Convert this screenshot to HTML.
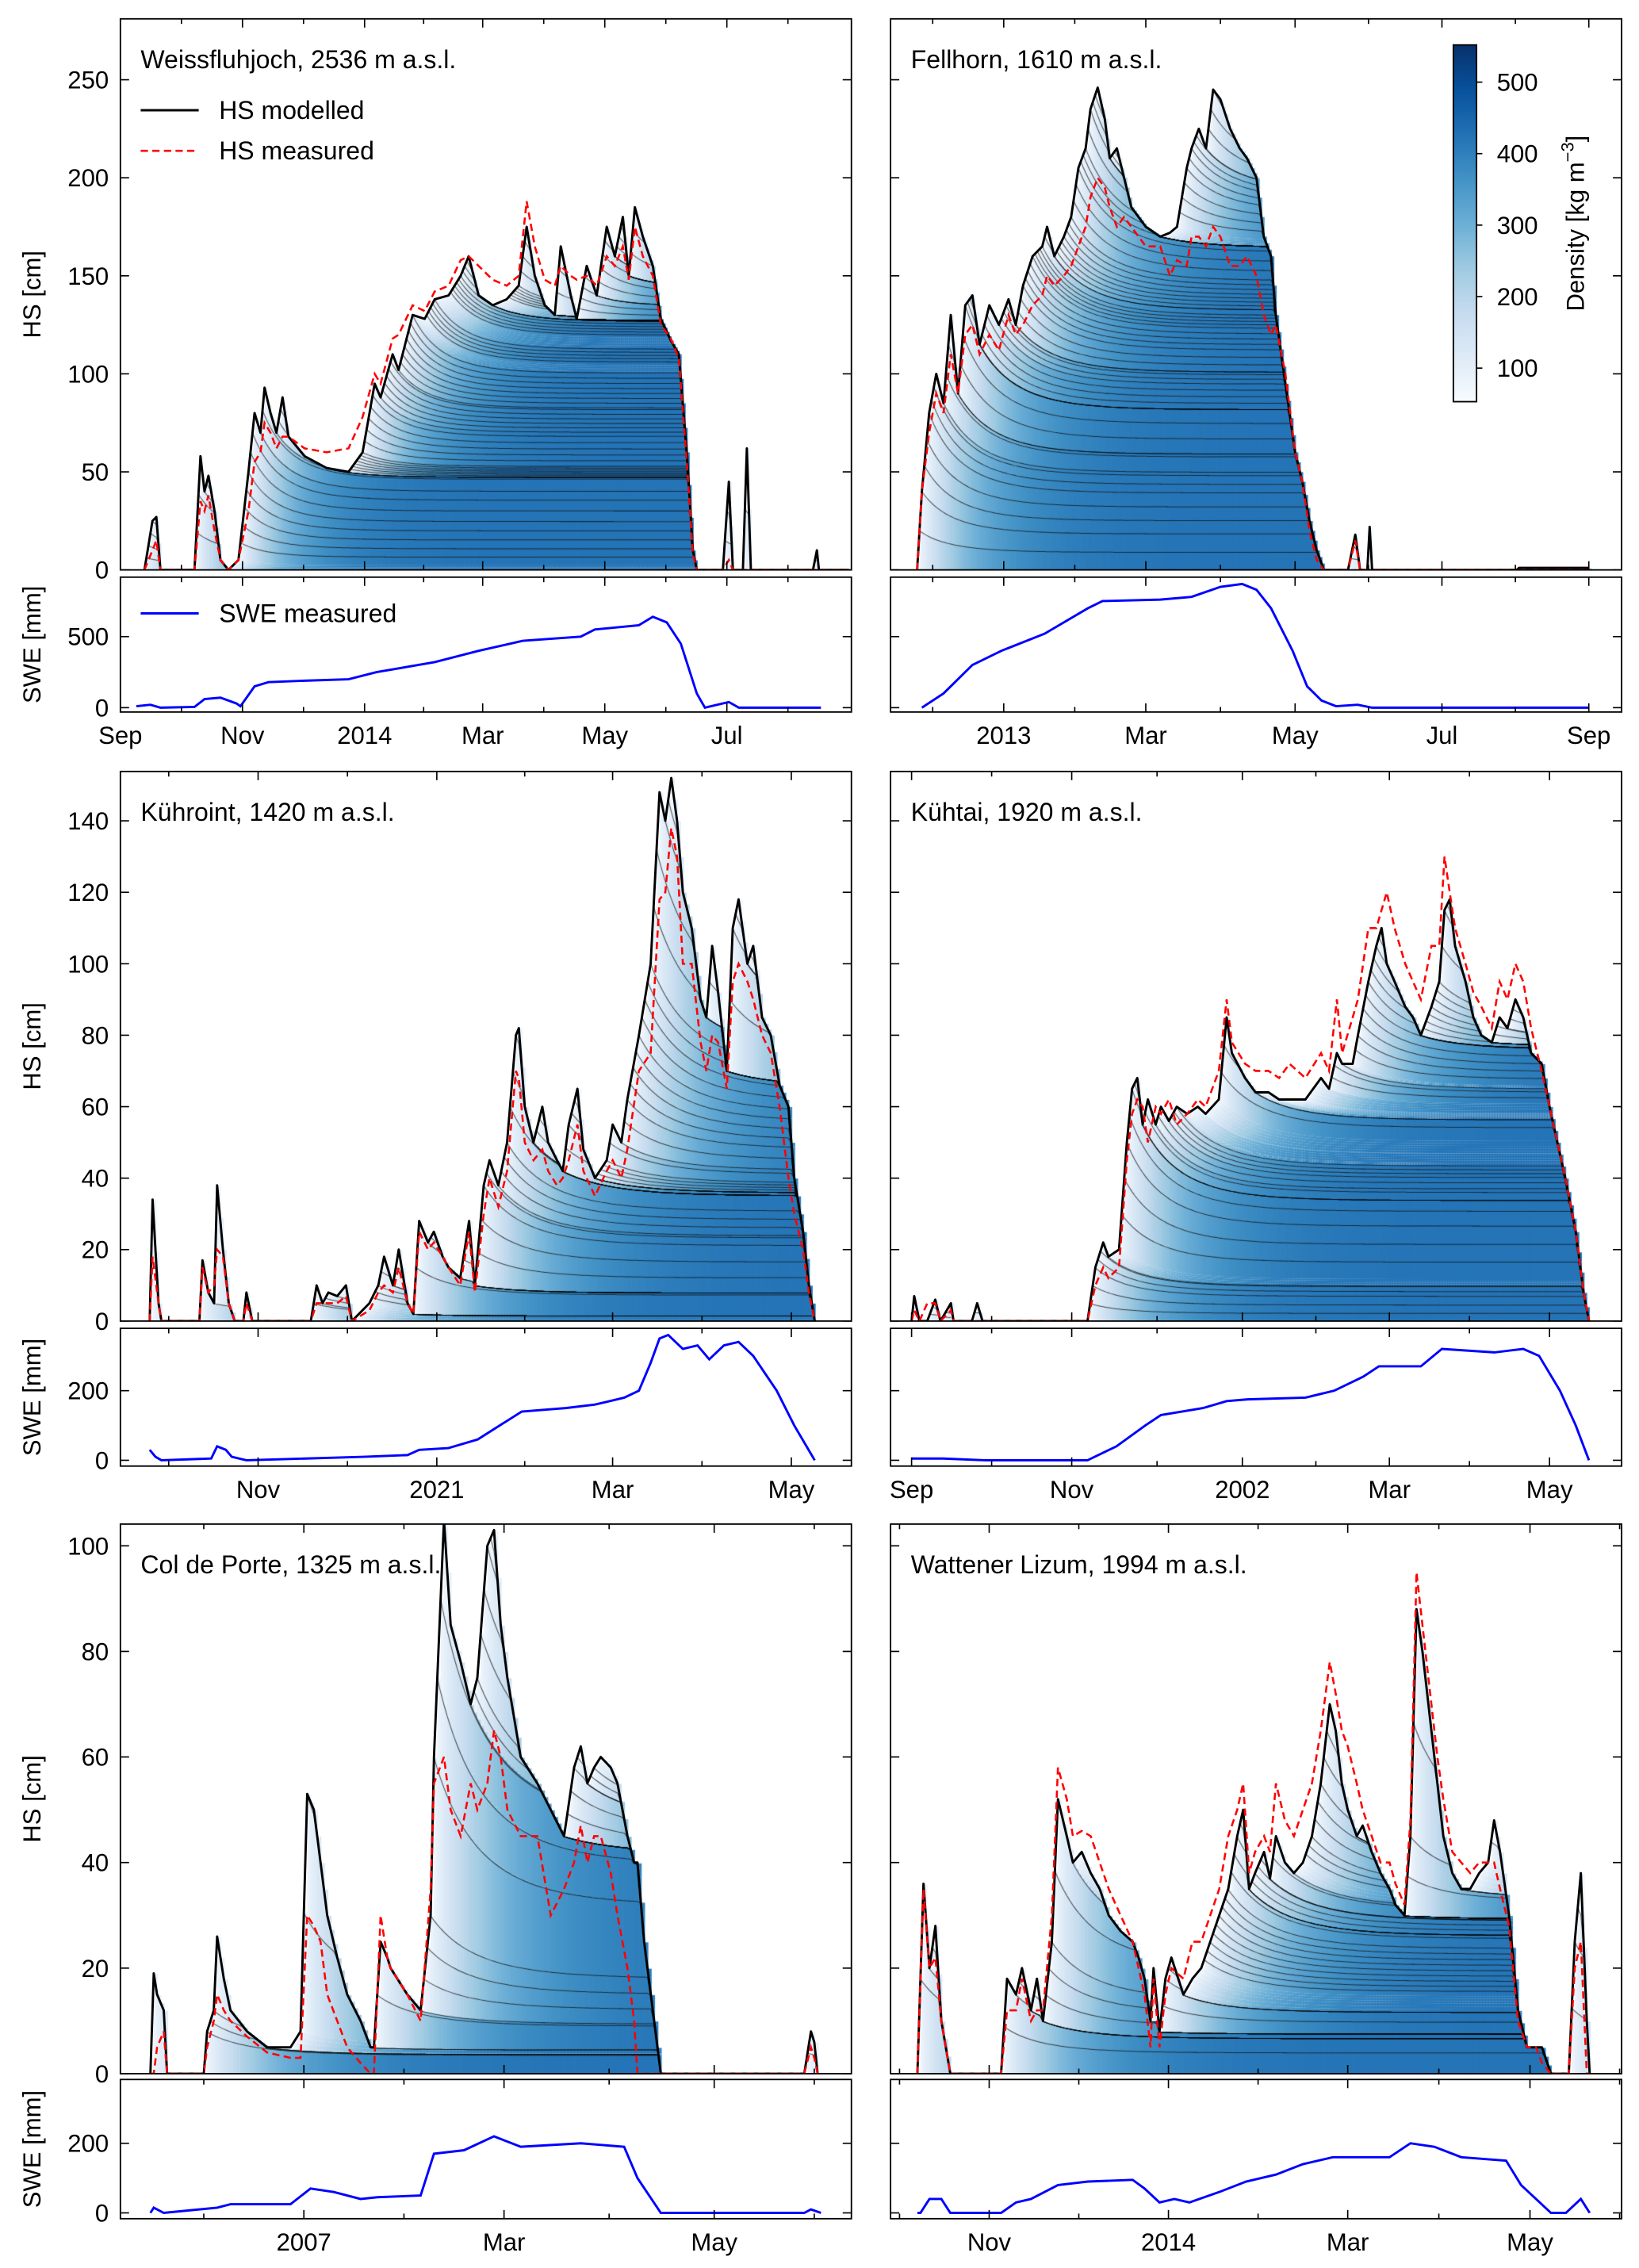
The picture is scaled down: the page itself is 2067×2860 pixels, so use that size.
<!DOCTYPE html>
<html><head><meta charset="utf-8">
<style>
html,body{margin:0;padding:0;background:#fff;}
#wrap{position:relative;width:2067px;height:2860px;overflow:hidden;}
#cv,#sv{position:absolute;left:0;top:0;}
text{font-family:"Liberation Sans","DejaVu Sans",sans-serif;fill:#000;}
</style></head>
<body>
<div id="wrap">
<canvas id="cv" width="2067" height="2860"></canvas>
<svg id="sv" width="2067" height="2860" viewBox="0 0 1130 1564" preserveAspectRatio="none" xmlns="http://www.w3.org/2000/svg">
<defs>
<linearGradient id="cbar" x1="0" y1="1" x2="0" y2="0">
<stop offset="0" stop-color="#f7fbff"/><stop offset="0.125" stop-color="#deebf7"/><stop offset="0.25" stop-color="#c6dbef"/><stop offset="0.375" stop-color="#9ecae1"/><stop offset="0.5" stop-color="#6baed6"/><stop offset="0.625" stop-color="#4292c6"/><stop offset="0.75" stop-color="#2171b5"/><stop offset="0.875" stop-color="#08519c"/><stop offset="1" stop-color="#08306b"/>
</linearGradient>
</defs>
<g id="root"></g>
</svg>
</div>
<script>
// ---------- DATA ----------
// Weissfluhjoch (day 0 = 1 Sep)
const w_days = [12,16,18,20,37,40,42,44,47,50,54,59,64,67,70,72,75,78,81,84,92,103,114,121,127,130,136,139,146,152,157,164,170,174,179,186,193,199,203,207,212,217,220,225,228,233,238,243,247,251,254,257,261,266,270,275,279,283,286,288,301,304,306,311,313,315,346,348,349,364];
const w_hsMod = [0,25,27,0,0,58,40,48,30,5,0,5,50,80,70,93,80,70,88,68,58,52,50,60,95,88,110,102,130,128,138,140,150,160,140,135,138,145,175,150,135,130,165,140,128,155,140,175,160,180,150,185,170,155,128,117,110,60,10,0,0,45,0,0,62,0,0,10,0,0];
const w_hsMeas = [0,10,15,0,0,35,30,38,20,5,0,5,30,55,60,75,70,62,68,68,62,60,62,78,100,95,118,120,135,132,142,145,158,160,155,148,145,150,188,165,148,145,155,150,148,150,145,160,155,165,148,175,160,150,125,118,108,55,8,0,0,5,0,0,0,0,0,0,0,0];
const w_sweDays = [8,15,20,37,42,50,58,60,67,74,92,114,128,157,179,201,230,237,259,266,273,280,288,292,304,309,350];
const w_swe = [10,20,0,5,60,70,30,10,150,180,190,200,250,320,400,470,500,550,580,640,600,450,100,0,40,0,0];
// Fellhorn (day 0 = ~15 Nov)
const f_days = [11,13,16,19,22,25,28,31,34,37,41,45,49,52,55,59,63,65,68,72,75,78,81,83,86,89,91,94,97,100,106,112,116,119,123,125,128,131,134,137,141,145,148,152,155,158,160,164,168,171,174,177,180,190,193,195,198,199,200,260,261,290];
const f_hsMod = [0,40,80,100,85,130,90,135,140,115,135,125,138,125,145,160,165,175,160,170,180,205,215,235,246,230,210,215,200,185,175,170,172,175,205,215,225,215,245,240,225,215,210,200,170,160,130,95,60,45,25,10,0,0,18,0,0,22,0,0,1,1];
const f_hsMeas = [0,40,70,90,80,110,90,120,125,110,120,112,130,120,125,135,140,150,145,150,155,165,175,190,200,195,185,175,180,175,165,165,150,158,155,170,170,165,175,170,155,155,160,150,130,120,125,100,60,45,20,5,0,0,15,0,0,0,0,0,0,0];
const f_sweDays = [13,22,34,46,64,82,88,112,125,137,146,152,158,167,173,179,185,194,200,290];
const f_swe = [0,100,300,400,520,700,750,760,780,850,870,830,700,400,150,50,10,20,0,0];
// Kühroint (day 0 = ~15 Sep)
const k_days = [10,11,13,14,27,28,30,32,33,35,37,39,42,43,45,65,67,69,71,74,77,79,85,88,90,93,95,98,100,102,105,107,110,112,116,119,121,124,126,129,132,135,136,138,141,144,146,149,151,153,156,158,162,166,168,171,173,177,181,184,186,188,190,192,195,198,200,202,204,207,209,211,214,216,219,222,225,228,230,233,235,237];
const k_hsMod = [0,34,5,0,0,17,8,5,38,20,5,0,0,8,0,0,10,5,8,7,10,0,5,10,18,10,20,5,2,28,22,25,18,15,12,28,10,38,45,38,50,80,82,60,50,60,50,45,42,55,65,48,40,45,55,50,62,80,100,148,140,152,140,120,110,90,85,105,92,70,110,118,100,105,85,80,66,60,40,25,10,0];
const k_hsMeas = [0,18,5,0,0,15,8,10,20,18,5,0,0,5,0,0,5,5,5,5,7,0,3,8,10,8,15,5,2,25,20,22,18,15,10,25,8,30,40,32,42,70,68,50,45,48,42,38,40,45,55,42,35,42,45,40,48,70,75,118,120,138,130,100,100,78,70,80,78,65,95,100,95,90,80,75,60,40,30,20,8,0];
const k_sweDays = [10,12,14,31,33,36,38,43,83,98,102,112,122,137,152,162,172,177,181,184,187,192,197,201,206,211,216,224,230,237];
const k_swe = [30,10,0,5,40,30,10,0,10,15,30,35,60,140,150,160,180,200,280,350,360,320,330,290,330,340,300,200,100,0];
// Kühtai (day 0 = ~24 Aug)
const t_days = [8,9,11,14,17,19,23,24,31,33,35,75,78,81,83,87,90,92,94,96,98,101,103,106,109,113,117,120,125,128,130,135,139,144,148,152,158,164,167,170,172,176,178,182,185,187,189,192,196,199,202,206,209,211,213,215,219,222,225,229,232,235,238,241,244,248,251,254,257,261,264,266];
const t_hsMod = [0,7,0,0,6,0,5,0,0,5,0,0,15,22,18,20,50,65,68,55,62,55,60,56,60,58,60,58,62,85,75,68,64,64,62,62,62,68,65,75,72,72,80,95,105,110,100,95,88,85,80,88,95,115,118,105,95,85,80,78,85,82,90,85,75,72,60,50,40,25,8,0];
const t_hsMeas = [0,3,0,5,5,0,3,0,0,0,0,0,10,15,12,15,45,58,62,60,50,60,58,62,55,58,62,60,70,90,78,72,70,70,68,72,68,75,70,90,75,85,90,110,110,115,120,110,100,95,90,105,105,130,120,110,100,92,88,82,95,90,100,95,82,70,60,50,40,25,8,0];
const t_sweDays = [8,20,36,75,86,97,103,119,128,136,158,169,180,186,202,210,230,241,247,255,261,266];
const t_swe = [5,5,0,0,40,100,130,150,170,175,180,200,240,270,270,320,310,320,300,200,100,0];
// Col de Porte (day 0 = ~7 Nov)
const c_days = [9,10,11,13,14,25,26,28,29,31,33,38,44,51,54,56,58,60,62,65,68,72,75,76,78,80,81,86,90,93,94,97,99,102,105,107,110,112,114,116,120,125,129,133,136,138,140,142,144,147,149,152,154,155,157,160,162,205,207,208,209];
const c_hsMod = [0,19,15,12,0,0,8,12,26,18,12,8,5,5,8,53,50,40,30,22,15,10,5,5,25,22,20,15,12,30,60,105,85,78,70,75,100,103,85,75,60,55,50,45,58,62,55,58,60,58,55,45,40,40,25,10,0,0,8,6,0];
const c_hsMeas = [0,0,5,8,0,0,5,10,15,12,10,7,4,3,3,30,28,25,15,10,5,2,0,0,30,22,20,15,10,35,55,60,50,45,55,50,55,65,60,50,45,45,30,35,40,47,40,45,45,38,30,20,10,0,0,0,0,0,5,3,0];
const c_sweDays = [9,10,13,29,33,51,57,64,72,77,90,94,103,112,120,138,151,155,162,205,207,210];
const c_swe = [0,15,0,15,25,25,70,60,40,45,50,170,180,220,190,200,190,100,0,0,10,0];
// Wattener Lizum (day 0 = ~29 Sep)
const l_days = [9,11,13,15,17,20,37,39,42,44,47,49,51,54,56,59,61,64,67,70,73,77,81,83,85,87,88,90,92,94,98,101,104,107,110,113,116,118,120,122,125,127,129,132,135,138,141,144,147,149,151,153,156,158,161,164,167,169,172,174,176,178,180,183,185,188,191,194,197,200,202,204,207,210,213,216,218,221,227,229,231,233,234];
const l_hsMod = [0,36,20,28,10,0,0,18,15,20,12,18,10,25,52,45,40,42,38,35,30,27,25,22,18,10,20,8,18,22,15,18,20,25,30,35,45,50,35,38,42,37,45,40,38,40,45,55,70,65,55,50,45,47,42,38,35,32,30,45,88,80,70,55,45,38,35,35,38,40,48,42,30,12,5,5,5,0,0,25,38,10,0];
const l_hsMeas = [0,35,20,22,10,0,0,12,12,18,10,12,12,30,58,52,45,46,45,40,35,30,25,20,15,5,18,5,15,20,18,25,25,30,35,45,50,55,38,42,45,42,55,48,45,50,55,65,78,72,65,62,55,50,45,40,40,36,32,48,95,85,75,60,52,42,40,38,40,40,40,35,28,10,5,5,2,0,0,20,25,0,0];
const l_sweDays = [9,10,13,17,20,37,42,47,56,66,81,85,90,95,100,110,119,129,138,148,167,174,182,191,206,211,216,221,226,231,234];
const l_swe = [0,0,40,40,0,0,30,40,80,90,95,70,30,40,30,60,90,110,140,160,160,200,190,160,150,80,40,0,0,40,0];

// tick labels
const w_tickDays=[0,61,122,181,242,303], w_tickLabels=["Sep","Nov","2014","Mar","May","Jul"];
const f_tickDays=[47,106,168,229,290], f_tickLabels=["2013","Mar","May","Jul","Sep"];
const k_tickDays=[47,108,168,229], k_tickLabels=["Nov","2021","Mar","May"];
const t_tickDays=[8,69,134,190,251], t_tickLabels=["Sep","Nov","2002","Mar","May"];
const c_tickDays=[55,115,178], c_tickLabels=["2007","Mar","May"];
const l_tickDays=[33,93,153,214], l_tickLabels=["Nov","2014","Mar","May"];
const hsTicksA=[0,50,100,150,200,250], hsTicksB=[0,20,40,60,80,100,120,140], hsTicksC=[0,20,40,60,80,100];
const sweTicksA=[0,500], sweTicksB=[0,200];
const cbTicks=[100,200,300,400,500];

// ---------- LAYOUT ----------
const panels=[
 {id:'weissfluhjoch',title:'Weissfluhjoch, 2536 m a.s.l.',x0:83,x1:587,ppd:1.38,hsTop:13,hsBot:393,hsPx:1.352,sTop:398,sBot:491,sZero:488,sPx:0.098,days:w_days,mod:w_hsMod,meas:w_hsMeas,sd:w_sweDays,sv:w_swe,td:w_tickDays,tl:w_tickLabels,hsT:hsTicksA,sT:sweTicksA,left:true,legend:true},
 {id:'fellhorn',title:'Fellhorn, 1610 m a.s.l.',x0:614,x1:1118,ppd:1.66,hsTop:13,hsBot:393,hsPx:1.352,sTop:398,sBot:491,sZero:488,sPx:0.098,days:f_days,mod:f_hsMod,meas:f_hsMeas,sd:f_sweDays,sv:f_swe,td:f_tickDays,tl:f_tickLabels,hsT:hsTicksA,sT:sweTicksA,left:false},
 {id:'kuehroint',title:'Kühroint, 1420 m a.s.l.',x0:83,x1:587,ppd:2.02,hsTop:532,hsBot:911,hsPx:2.464,sTop:916,sBot:1011,sZero:1007,sPx:0.24,days:k_days,mod:k_hsMod,meas:k_hsMeas,sd:k_sweDays,sv:k_swe,td:k_tickDays,tl:k_tickLabels,hsT:hsTicksB,sT:sweTicksB,left:true},
 {id:'kuehtai',title:'Kühtai, 1920 m a.s.l.',x0:614,x1:1118,ppd:1.81,hsTop:532,hsBot:911,hsPx:2.464,sTop:916,sBot:1011,sZero:1007,sPx:0.24,days:t_days,mod:t_hsMod,meas:t_hsMeas,sd:t_sweDays,sv:t_swe,td:t_tickDays,tl:t_tickLabels,hsT:hsTicksB,sT:sweTicksB,left:false},
 {id:'col-de-porte',title:'Col de Porte, 1325 m a.s.l.',x0:83,x1:587,ppd:2.30,hsTop:1051,hsBot:1430,hsPx:3.64,sTop:1434,sBot:1530,sZero:1526,sPx:0.24,days:c_days,mod:c_hsMod,meas:c_hsMeas,sd:c_sweDays,sv:c_swe,td:c_tickDays,tl:c_tickLabels,hsT:hsTicksC,sT:sweTicksB,left:true},
 {id:'wattener-lizum',title:'Wattener Lizum, 1994 m a.s.l.',x0:614,x1:1118,ppd:2.06,hsTop:1051,hsBot:1430,hsPx:3.64,sTop:1434,sBot:1530,sZero:1526,sPx:0.24,days:l_days,mod:l_hsMod,meas:l_hsMeas,sd:l_sweDays,sv:l_swe,td:l_tickDays,tl:l_tickLabels,hsT:hsTicksC,sT:sweTicksB,left:false}
];

const NS='http://www.w3.org/2000/svg';
const root=document.getElementById('root');
function el(tag,attrs,parent){const e=document.createElementNS(NS,tag);for(const k in attrs)e.setAttribute(k,attrs[k]);(parent||root).appendChild(e);return e;}
function interp(xs,ys,x){if(x<=xs[0])return ys[0];for(let i=1;i<xs.length;i++){if(x<=xs[i]){const t=(x-xs[i-1])/(xs[i]-xs[i-1]);return ys[i-1]+t*(ys[i]-ys[i-1]);}}return ys[ys.length-1];}

const stops=[[0,[247,251,255]],[.125,[222,235,247]],[.25,[198,219,239]],[.375,[158,202,225]],[.5,[107,174,214]],[.625,[66,146,198]],[.75,[33,113,181]],[.875,[8,81,156]],[1,[8,48,107]]];
function blues(t){t=Math.max(0,Math.min(1,t));for(let i=1;i<stops.length;i++){if(t<=stops[i][0]){const a=stops[i-1],b=stops[i];const u=(t-a[0])/(b[0]-a[0]);return 'rgb('+a[1].map((v,k)=>Math.round(v+u*(b[1][k]-v))).join(',')+')';}}return 'rgb(8,48,107)';}

const cv=document.getElementById('cv');const ctx=cv.getContext('2d');
const S=2067/1130;ctx.setTransform(S,0,0,S,0,0);

panels.forEach(p=>{
 const X=d=>p.x0+d*p.ppd;
 const YH=v=>p.hsBot-v*p.hsPx;
 const YS=v=>p.sZero-v*p.sPx;
 const g=el('g',{});
 
 
 // ---- density fill on canvas ----
 const dEnd=p.days[p.days.length-1];
 const hs=[];for(let d=0;d<=dEnd;d++)hs.push(d<p.days[0]?0:Math.max(0,interp(p.days,p.mod,d)));
 let layers=[];
 const lineSets=[];
 ctx.save();ctx.beginPath();ctx.rect(p.x0,p.hsTop,p.x1-p.x0,p.hsBot-p.hsTop);ctx.clip();
 for(let d=0;d<=dEnd;d++){
  const h=hs[d];
  if(h<=0.2){layers=[];continue;}
  let prevOld=0,prevNew=0;
  for(const L of layers){
   const age=d-L.start;
   const r=1-0.045*Math.exp(-age/18);
   const nt=prevNew+(L.T-prevOld)*r;
   prevOld=L.T;L.T=Math.min(h,Math.max(nt,prevNew));prevNew=L.T;
  }
  const topPrev=layers.length?layers[layers.length-1].T:0;
  if(h>topPrev+0.01){layers.push({start:d,T:h,line:(d>0&&hs[d]>hs[d-1]+1.0)});}
  else if(layers.length){layers[layers.length-1].T=h;}
  let base=0;
  const x=X(d),w=p.ppd+0.6;
  for(const L of layers){
   if(L.T>base){const age=d-L.start;const dens=420-340*Math.exp(-age/22);
    ctx.fillStyle=blues((dens-50)/500);ctx.fillRect(x,YH(L.T),w,YH(base)-YH(L.T));base=L.T;}
  }
  for(const L of layers){if(L.line){(L.pts||(L.pts=[])).push([X(d),YH(L.T)]);if(!L.reg){L.reg=1;lineSets.push(L);}}}
 }
 ctx.lineWidth=0.55;ctx.strokeStyle='rgba(0,0,0,0.7)';
 lineSets.forEach(L=>{if(L.pts.length<2)return;ctx.beginPath();L.pts.forEach((q,i)=>i?ctx.lineTo(q[0],q[1]):ctx.moveTo(q[0],q[1]));ctx.stroke();});
 ctx.restore();

 const cid='clip-'+p.id;
 const cp=el('clipPath',{id:cid},g);el('rect',{x:p.x0,y:p.hsTop,width:p.x1-p.x0,height:p.hsBot-p.hsTop},cp);
 const ptsMeas=p.days.map((d,i)=>X(d).toFixed(1)+','+YH(p.meas[i]).toFixed(1)).join(' ');
 const ptsMod=p.days.map((d,i)=>X(d).toFixed(1)+','+YH(p.mod[i]).toFixed(1)).join(' ');
 const lm=el('polyline',{points:ptsMod,fill:'none',stroke:'#000','stroke-width':1.6,'stroke-linejoin':'round','clip-path':'url(#'+cid+')'},g);
 
 
 const lr=el('polyline',{points:ptsMeas,fill:'none',stroke:'#ff0000','stroke-width':1.4,'stroke-dasharray':'5,3','clip-path':'url(#'+cid+')'},g);
 
 
 const ptsS=p.sd.map((d,i)=>X(d).toFixed(1)+','+YS(p.sv[i]).toFixed(1)).join(' ');
 const ls=el('polyline',{points:ptsS,fill:'none',stroke:'#0000ff','stroke-width':1.6},g);
 
 

 const f1=el('rect',{x:p.x0,y:p.hsTop,width:p.x1-p.x0,height:p.hsBot-p.hsTop,fill:'none',stroke:'#000','stroke-width':1},g);
 
 
 const f2=el('rect',{x:p.x0,y:p.sTop,width:p.x1-p.x0,height:p.sBot-p.sTop,fill:'none',stroke:'#000','stroke-width':1},g);
 
 
 const minor=[];for(let i=0;i<p.td.length-1;i++)minor.push((p.td[i]+p.td[i+1])/2);
 minor.push(p.td[0]-(p.td[1]-p.td[0])/2);minor.push(p.td[p.td.length-1]+(p.td[1]-p.td[0])/2);
 const drawX=(d,len)=>{const x=X(d);if(x<p.x0+1||x>p.x1-1)return;
  [[p.hsBot,-len],[p.hsTop,len],[p.sBot,-len],[p.sTop,len]].forEach(([y,l])=>el('line',{x1:x,x2:x,y1:y,y2:y+l,stroke:'#000','stroke-width':0.9},g));};
 p.td.forEach(d=>drawX(d,6));minor.forEach(d=>drawX(d,3.5));
 p.td.forEach((d,i)=>{const t=el('text',{x:X(d),y:p.sBot+22,'font-size':17,'text-anchor':'middle'},g);t.textContent=p.tl[i];
  
  });
 p.hsT.forEach(v=>{const y=YH(v);[[p.x0,6],[p.x1,-6]].forEach(([x,l])=>el('line',{x1:x,x2:x+l,y1:y,y2:y,stroke:'#000','stroke-width':0.9},g));
  if(p.left){const t=el('text',{x:p.x0-8,y:y+6,'font-size':17,'text-anchor':'end'},g);t.textContent=v;
   
   }});
 p.sT.forEach(v=>{const y=YS(v);[[p.x0,6],[p.x1,-6]].forEach(([x,l])=>el('line',{x1:x,x2:x+l,y1:y,y2:y,stroke:'#000','stroke-width':0.9},g));
  if(p.left){const t=el('text',{x:p.x0-8,y:y+6,'font-size':17,'text-anchor':'end'},g);t.textContent=v;
   
   }});
 if(p.left){
  const cy=(p.hsTop+p.hsBot)/2;const t=el('text',{x:28,y:cy,'font-size':17,'text-anchor':'middle',transform:'rotate(-90 28 '+cy+')'},g);t.textContent='HS [cm]';
  
  
  const cy2=(p.sTop+p.sBot)/2;const t2=el('text',{x:28,y:cy2,'font-size':17,'text-anchor':'middle',transform:'rotate(-90 28 '+cy2+')'},g);t2.textContent='SWE [mm]';
  
  
 }
 const tt=el('text',{x:p.x0+14,y:p.hsTop+34,'font-size':17.5},g);tt.textContent=p.title;
 
 
 if(p.legend){
  const l1=el('line',{x1:97,x2:137,y1:76,y2:76,stroke:'#000','stroke-width':1.6},g);
  
  
  const a=el('text',{x:151,y:82,'font-size':17.5},g);a.textContent='HS modelled';
  
  
  const l2=el('line',{x1:97,x2:137,y1:104,y2:104,stroke:'#f00','stroke-width':1.4,'stroke-dasharray':'5,3'},g);
  
  
  const b=el('text',{x:151,y:110,'font-size':17.5},g);b.textContent='HS measured';
  
  
  const l3=el('line',{x1:97,x2:137,y1:423,y2:423,stroke:'#00f','stroke-width':1.6},g);
  
  
  const c=el('text',{x:151,y:429,'font-size':17.5},g);c.textContent='SWE measured';
  
  
 }
});

const cbx=1002,cbw=16,cbTop=31,cbBot=277,cbMin=53,cbMax=552;
const CY=v=>cbBot-(v-cbMin)/(cbMax-cbMin)*(cbBot-cbTop);
const cb=el('rect',{x:cbx,y:cbTop,width:cbw,height:cbBot-cbTop,fill:'url(#cbar)',stroke:'#000','stroke-width':1});


cbTicks.forEach(v=>{const y=CY(v);el('line',{x1:cbx+cbw,x2:cbx+cbw+4,y1:y,y2:y,stroke:'#000','stroke-width':0.9});
 const t=el('text',{x:cbx+cbw+14,y:y+6,'font-size':17});t.textContent=v;
 
 });
const ct=el('text',{x:1092,y:154,'font-size':17,'text-anchor':'middle',transform:'rotate(-90 1092 154)'});


ct.innerHTML='Density [kg m<tspan dy="-7" font-size="12">−3</tspan><tspan dy="7">]</tspan>';
</script>
</body></html>
